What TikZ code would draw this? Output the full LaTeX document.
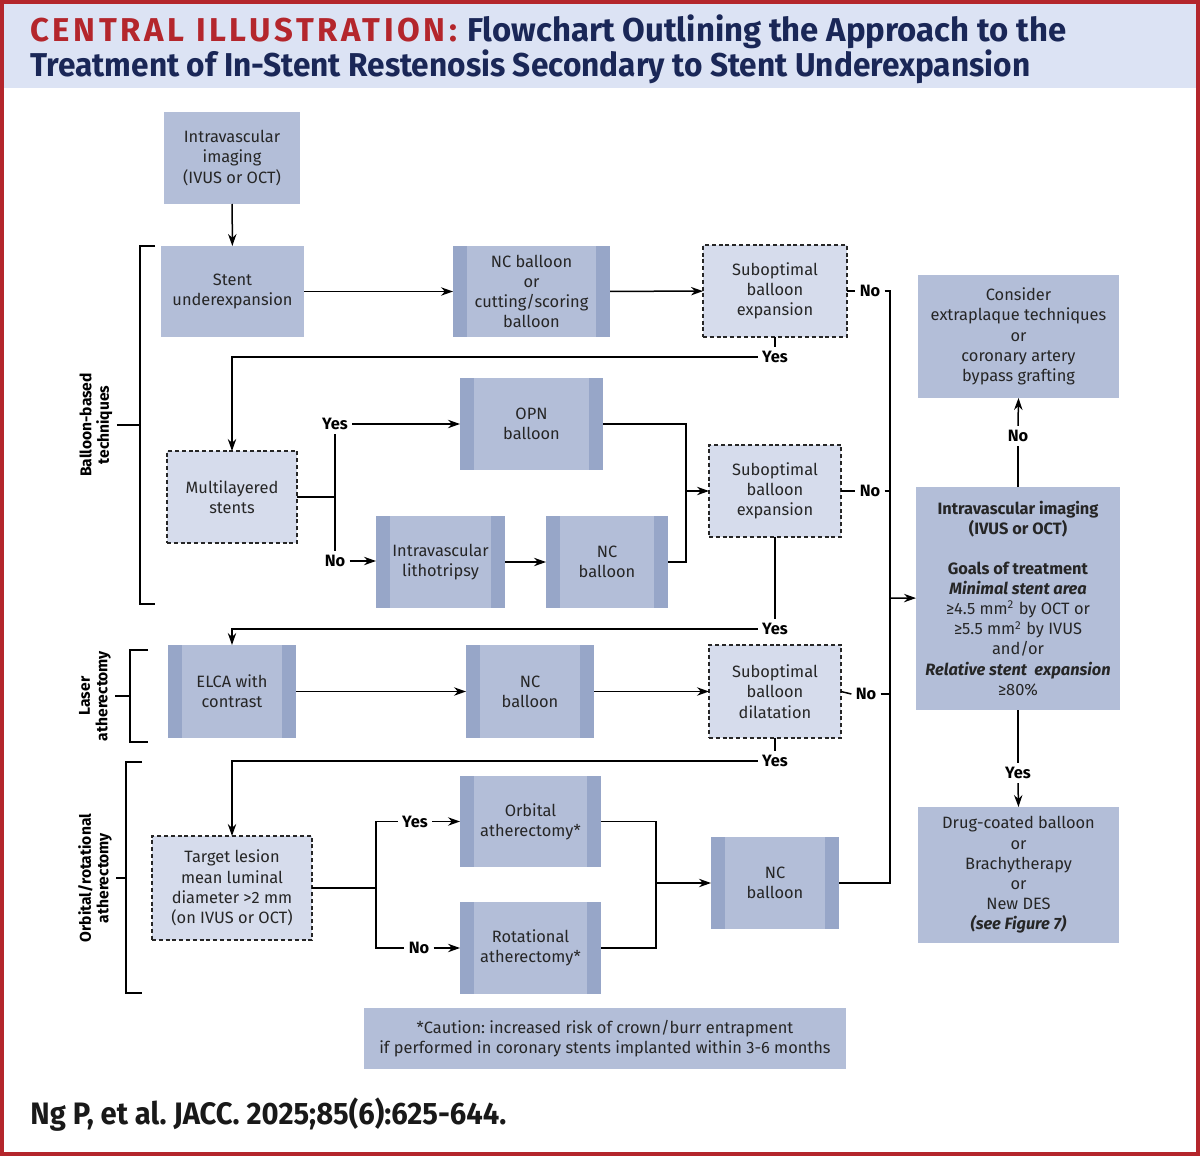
\documentclass[tikz,border=0pt]{standalone}
\usepackage{fontspec}
\setmainfont{Fira Sans}
\usetikzlibrary{arrows.meta}
\frenchspacing
\definecolor{boxc}{HTML}{B3BED8}
\definecolor{stripc}{HTML}{97A6C8}
\definecolor{dashc}{HTML}{D6DCEC}
\definecolor{headc}{HTML}{DCE3F4}
\definecolor{redc}{HTML}{B4262C}
\definecolor{navyc}{HTML}{1A2757}
\definecolor{txtc}{HTML}{262626}
\tikzset{
 base/.style={inner sep=0pt, outer sep=0pt, align=center, text=txtc, font=\fontsize{8.2}{10.1}\selectfont},
 solidbox/.style={base, fill=boxc},
 stripbox/.style={base, fill=boxc, path picture={
   \fill[stripc] (path picture bounding box.south west) rectangle ([xshift=7pt]path picture bounding box.north west);
   \fill[stripc] (path picture bounding box.south east) rectangle ([xshift=-7pt]path picture bounding box.north east);}},
 dashbox/.style={base, fill=dashc, draw=txtc, line width=0.6pt, dash pattern=on 2pt off 1.4pt},
 conn/.style={line width=0.75pt, draw=black},
 arr/.style={conn, -{Stealth[length=6pt,width=4.2pt]}},
 lbl/.style={inner sep=2pt, font=\bfseries\fontsize{8.2}{10}\selectfont, text=black},
 side/.style={inner sep=2pt, align=center, rotate=90, font=\bfseries\fontsize{7.8}{8.8}\selectfont, text=black},
}
\newcommand\bx[7]{%
 \pgfmathsetmacro\bw{(#4-#2)/2}\pgfmathsetmacro\bh{(#5-#3)/2}%
 \node[#6, minimum width=\bw pt, minimum height=\bh pt] (#1) at ({(#2+#4)/2},{(#3+#5)/2}) {#7};}
\begin{document}
\begin{tikzpicture}[x=0.5pt,y=-0.5pt]
\useasboundingbox (0,0) rectangle (1200,1156);
\fill[redc] (0,0) rectangle (1200,1156);
\fill[white] (4,4) rectangle (1196,1152);
\fill[headc] (4,4) rectangle (1196,88);
% title
\node[anchor=base west, inner sep=0pt] (t1) at (30,42) {\resizebox{518pt}{\height}{\bfseries\fontsize{16.5}{18}\selectfont{\color{redc}\addfontfeature{LetterSpace=11}CENTRAL ILLUSTRATION:}\hspace{5pt}\textcolor{navyc}{Flowchart Outlining the Approach to the}}};
\node[anchor=base west, inner sep=0pt] (t2) at (30,76) {\resizebox{500pt}{\height}{\bfseries\fontsize{16.5}{18}\selectfont\textcolor{navyc}{Treatment of In-Stent Restenosis Secondary to Stent Underexpansion}}};
% footer
\node[anchor=base west, inner sep=0pt, text=black!90] (foot) at (30,1124) {\resizebox{238pt}{\height}{\bfseries\fontsize{15.5}{17}\selectfont Ng P, et al. JACC. 2025;85(6):625-644.}};
% boxes
\bx{imgA}{164}{112}{300}{204}{solidbox}{Intravascular\\imaging\\(IVUS or OCT)}
\bx{stent}{161}{246}{304}{337}{solidbox}{Stent\\underexpansion}
\bx{ncba}{453}{246}{610}{337}{stripbox}{NC balloon\\or\\cutting/scoring\\balloon}
\bx{subA}{703}{245}{847}{337}{dashbox}{Suboptimal\\balloon\\expansion}
\bx{extra}{918}{275}{1119}{398}{solidbox}{Consider\\extraplaque techniques\\or\\coronary artery\\bypass grafting}
\bx{multi}{167}{451}{297}{543}{dashbox}{Multilayered\\stents}
\bx{opn}{460}{378}{603}{470}{stripbox}{OPN\\balloon}
\bx{litho}{376}{516}{505}{608}{stripbox}{Intravascular\\lithotripsy}
\bx{ncbb}{546}{516}{668}{608}{stripbox}{NC\\balloon}
\bx{subB}{709}{445}{841}{537}{dashbox}{Suboptimal\\balloon\\expansion}
\bx{goals}{916}{487}{1120}{710}{solidbox}{\textbf{Intravascular imaging}\\\textbf{(IVUS or OCT)}\\[9.7pt]\textbf{Goals of treatment}\\\textbf{\textit{Minimal stent area}}\\≥4.5 mm\textsuperscript{2} by OCT or\\≥5.5 mm\textsuperscript{2} by IVUS\\and/or\\\textbf{\textit{Relative stent\ \ expansion}}\\≥80\%}
\bx{elca}{168}{645}{296}{738}{stripbox}{ELCA with\\contrast}
\bx{ncbc}{466}{645}{594}{738}{stripbox}{NC\\balloon}
\bx{subC}{709}{645}{841}{738}{dashbox}{Suboptimal\\balloon\\dilatation}
\bx{target}{152}{836}{312}{940}{dashbox}{Target lesion\\mean luminal\\diameter >2 mm\\(on IVUS or OCT)}
\bx{orb}{460}{776}{601}{867}{stripbox}{Orbital\\atherectomy*}
\bx{rot}{460}{902}{601}{994}{stripbox}{Rotational\\atherectomy*}
\bx{ncbd}{711}{837}{839}{929}{stripbox}{NC\\balloon}
\bx{dcb}{918}{807}{1119}{943}{solidbox}{Drug-coated balloon\\or\\Brachytherapy\\or\\New DES\\\textbf{\textit{(see Figure 7)}}}
\bx{caution}{364}{1008}{846}{1069}{solidbox}{*Caution: increased risk of crown/burr entrapment\\if performed in coronary stents implanted within 3-6 months}
% side brackets
\node[side] (sA) at (96,425) {Balloon-based\\techniques};
\draw[conn] (155,246) -- (140,246) -- (140,604) -- (155,604);
\draw[conn] (sA.south) -- (140,425);
\node[side] (sB) at (95,696) {Laser\\atherectomy};
\draw[conn] (148,650) -- (130,650) -- (130,742) -- (148,742);
\draw[conn] (sB.south) -- (130,696);
\node[side] (sC) at (95,878) {Orbital/rotational\\atherectomy};
\draw[conn] (142,762) -- (126,762) -- (126,993) -- (142,993);
\draw[conn] (sC.south) -- (126,878);
% row 1
\draw[arr] (imgA) -- (stent);
\draw[arr] (stent) -- (ncba);
\draw[arr] (ncba) -- (subA);
\node[lbl] (noA) at (870,291) {No};
\coordinate (jA) at (890,291);
\coordinate (jD) at (890,883);
\coordinate (jG) at (890,598);
\draw[conn] (subA.east) -- (noA.west);
\draw[conn] (noA.east) -- (jA) -- (jD) -- (ncbd.east);
\draw[arr] (jG) -- (goals);
\node[lbl] (yesA) at (775,357) {Yes};
\draw[conn] (subA.south) -- (yesA.north);
\draw[arr] (yesA.west) -| (multi.north);
% row 2
\coordinate (mB) at (335,497);
\node[lbl] (yesB) at (335,424) {Yes};
\node[lbl] (noM) at (335,561) {No};
\draw[conn] (multi.east) -- (multi.east -| mB);
\draw[conn] (yesB.south) -- (noM.north);
\draw[arr] (yesB.east) -- (yesB.east -| opn.west);
\draw[arr] (noM.east) -- (noM.east -| litho.west);
\draw[arr] (litho) -- (ncbb);
\coordinate (mC) at (686,491);
\draw[conn] (opn.east) -- (opn.east -| mC) -- (ncbb.east -| mC) -- (ncbb.east);
\draw[arr] (mC) -- (subB.west);
\node[lbl] (noB) at (870,491) {No};
\draw[conn] (subB.east) -- (noB.west);
\draw[conn] (noB.east) -- (noB.east -| jA);
\node[lbl] (yesB2) at (775,629) {Yes};
\draw[conn] (subB.south) -- (yesB2.north);
\draw[arr] (yesB2.west) -| (elca.north);
% row 3
\draw[arr] (elca) -- (ncbc);
\draw[arr] (ncbc) -- (subC);
\node[lbl] (noC) at (866,694) {No};
\draw[conn] (subC.east) -- (noC.west);
\draw[conn] (noC.east) -- (noC.east -| jA);
\node[lbl] (yesC) at (775,761) {Yes};
\draw[conn] (subC.south) -- (yesC.north);
\draw[arr] (yesC.west) -| (target.north);
% row 4
\coordinate (tB) at (376,888);
\node[lbl] (yesT) at (415,821.5) {Yes};
\node[lbl] (noT) at (419,948) {No};
\draw[conn] (target.east) -- (target.east -| tB);
\draw[conn] (yesT.west) -- (yesT.west -| tB) -- (noT.west -| tB) -- (noT.west);
\draw[arr] (yesT.east) -- (yesT.east -| orb.west);
\draw[arr] (noT.east) -- (noT.east -| rot.west);
\coordinate (oR) at (656,883);
\draw[conn] (orb.east) -- (orb.east -| oR) -- (rot.east -| oR) -- (rot.east);
\draw[arr] (oR) -- (ncbd.west);
% right column
\node[lbl] (noG) at (1018,436) {No};
\draw[conn] (goals.north) -- (noG.south);
\draw[arr] (noG.north) -- (extra.south);
\node[lbl] (yesG) at (1018,773) {Yes};
\draw[conn] (goals.south) -- (yesG.north);
\draw[arr] (yesG.south) -- (dcb.north);
\end{tikzpicture}
\end{document}
